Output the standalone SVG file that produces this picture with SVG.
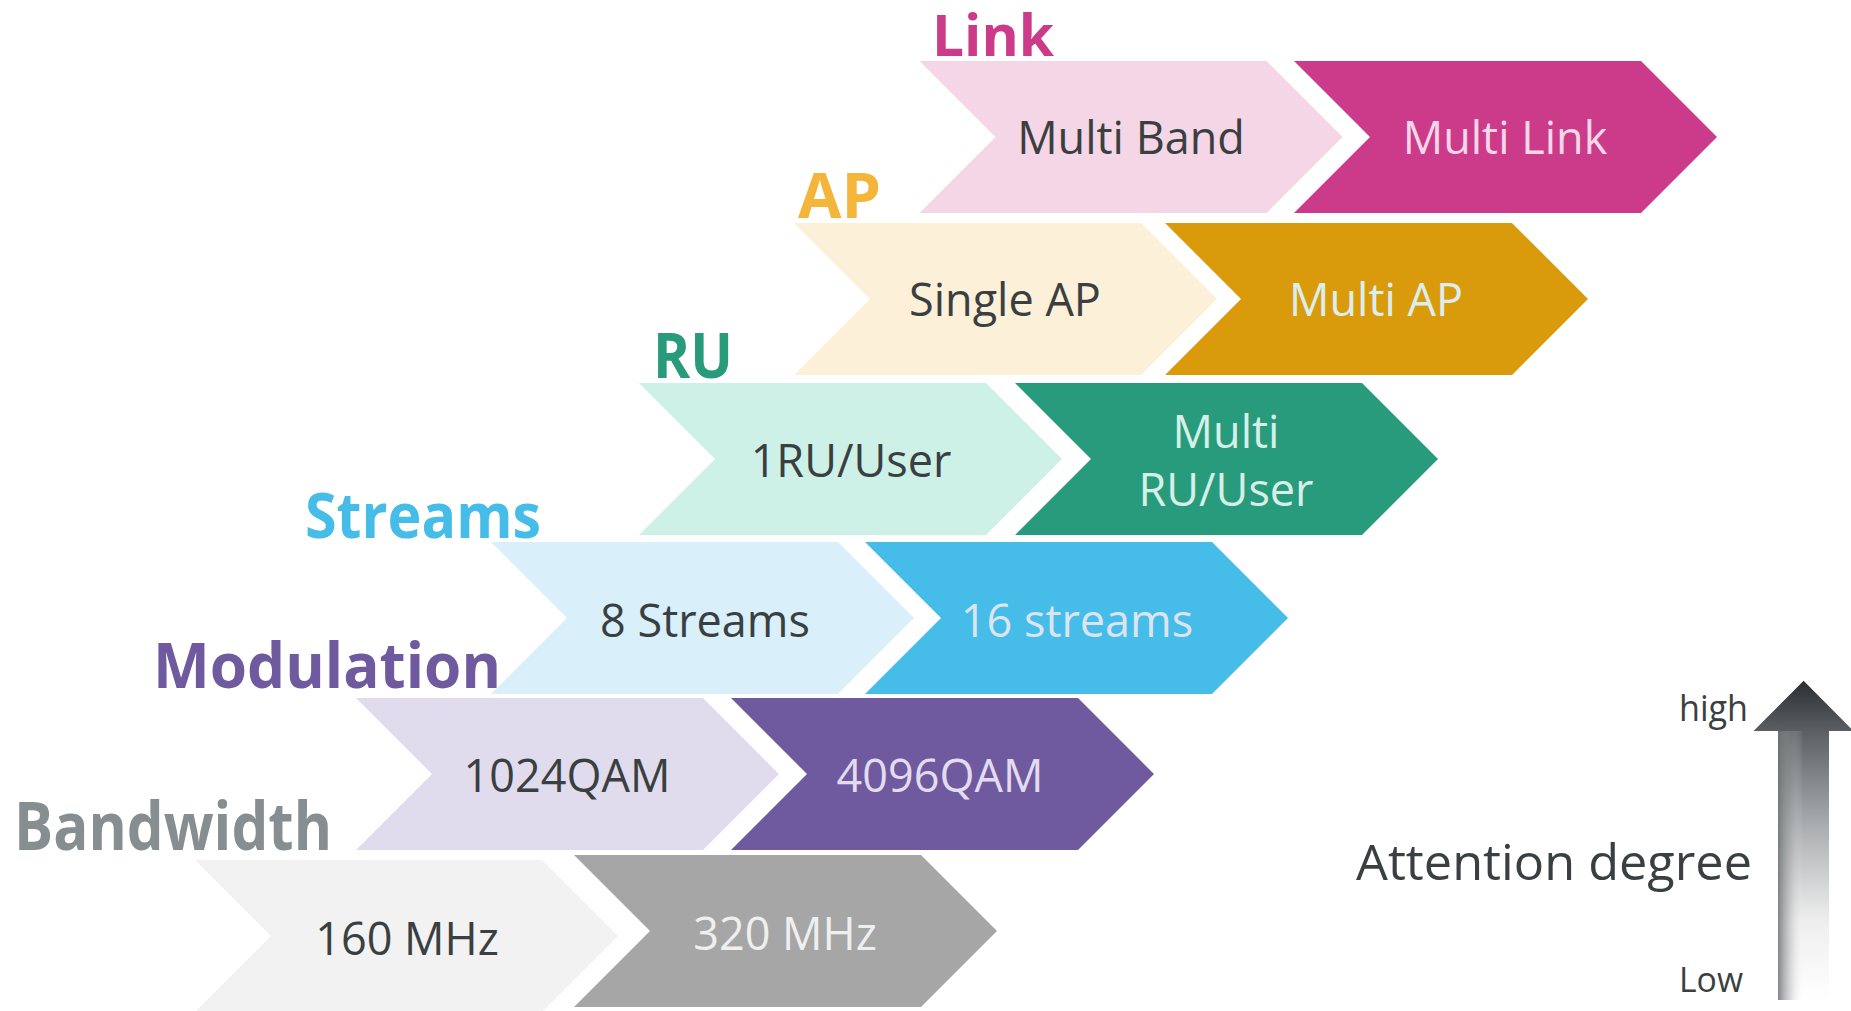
<svg xmlns="http://www.w3.org/2000/svg" xmlns:xlink="http://www.w3.org/1999/xlink" width="1851" height="1011" viewBox="0 0 1851 1011">
  <defs>
    <!-- one chevron step: 347 body + 76 point, 152 high -->
    <path id="chev" d="M0,0 H347 L423,76 L347,152 H0 L76,76 Z"/>
    <linearGradient id="arrowFill" x1="0" y1="681" x2="0" y2="1000" gradientUnits="userSpaceOnUse">
      <stop offset="0" stop-color="#2c2f31"/>
      <stop offset="0.16" stop-color="#5c6062"/>
      <stop offset="0.45" stop-color="#a9acae"/>
      <stop offset="0.75" stop-color="#eeeeee"/>
      <stop offset="1" stop-color="#ffffff"/>
    </linearGradient>
    <linearGradient id="shaftEdge" x1="1778" y1="0" x2="1829" y2="0" gradientUnits="userSpaceOnUse">
      <stop offset="0" stop-color="#6e7275" stop-opacity="0.85"/>
      <stop offset="0.25" stop-color="#9a9d9f" stop-opacity="0.35"/>
      <stop offset="0.5" stop-color="#ffffff" stop-opacity="0"/>
    </linearGradient>
  </defs>
  <style>
    .title { font-family: "Open Sans", "Noto Sans", sans-serif; font-weight: 700; font-size: 62px; }
    .lbl { font-family: "Open Sans", "Noto Sans", sans-serif; font-size: 45px; text-anchor: middle; }
    .dk { fill: #3a3f41; }
    .axis { font-family: "Open Sans", "Noto Sans", sans-serif; fill: #3a3f41; }
  </style>

  <rect width="1851" height="1011" fill="#ffffff"/>

  <!-- Link -->
  <g id="link">
    <text class="title" x="932" y="56" textLength="122" lengthAdjust="spacingAndGlyphs" fill="#cc3b8a" style="font-size:58px">Link</text>
    <use xlink:href="#chev" x="919.5" y="61" fill="#f5d6e6"/>
    <use xlink:href="#chev" x="1294" y="61" fill="#cc3b8a"/>
    <text class="lbl dk" x="1131" y="154">Multi Band</text>
    <text class="lbl" x="1505" y="154" fill="#f6d7e8">Multi Link</text>
  </g>

  <!-- AP -->
  <g id="ap">
    <text class="title" x="798" y="218" textLength="83" lengthAdjust="spacingAndGlyphs" fill="#f4b63a">AP</text>
    <use xlink:href="#chev" x="794" y="223" fill="#fdf0d8"/>
    <use xlink:href="#chev" x="1165" y="223" fill="#d99b0b"/>
    <text class="lbl dk" x="1005" y="316">Single AP</text>
    <text class="lbl" x="1376" y="316" fill="#dceeee">Multi AP</text>
  </g>

  <!-- RU -->
  <g id="ru">
    <text class="title" x="653" y="378" textLength="80" lengthAdjust="spacingAndGlyphs" fill="#289b7c">RU</text>
    <use xlink:href="#chev" x="639" y="383" fill="#cdf1e6"/>
    <use xlink:href="#chev" x="1015" y="383" fill="#289b7c"/>
    <text class="lbl dk" x="851" y="477">1RU/User</text>
    <text class="lbl" x="1226" y="448" fill="#d6efe7">Multi</text>
    <text class="lbl" x="1226" y="506" fill="#d6efe7">RU/User</text>
  </g>

  <!-- Streams -->
  <g id="streams">
    <text class="title" x="305" y="538" textLength="236" lengthAdjust="spacingAndGlyphs" fill="#46bde9">Streams</text>
    <use xlink:href="#chev" x="491" y="542" fill="#d9f0fa"/>
    <use xlink:href="#chev" x="865" y="542" fill="#46bde9"/>
    <text class="lbl dk" x="705" y="637">8 Streams</text>
    <text class="lbl" x="1077" y="637" fill="#dde4f0">16 streams</text>
  </g>

  <!-- Modulation -->
  <g id="modulation">
    <text class="title" x="153" y="688" textLength="348" lengthAdjust="spacingAndGlyphs" fill="#6f5aa0">Modulation</text>
    <use xlink:href="#chev" x="356" y="698" fill="#e1dced"/>
    <use xlink:href="#chev" x="731" y="698" fill="#6f5aa0"/>
    <text class="lbl dk" x="567" y="792">1024QAM</text>
    <text class="lbl" x="940" y="792" fill="#e3dcef">4096QAM</text>
  </g>

  <!-- Bandwidth -->
  <g id="bandwidth">
    <text class="title" x="14" y="850" textLength="318" lengthAdjust="spacingAndGlyphs" fill="#868e92" style="font-size:66px">Bandwidth</text>
    <use xlink:href="#chev" x="195" y="860" fill="#f2f2f2"/>
    <use xlink:href="#chev" x="574" y="855" fill="#a6a6a6"/>
    <text class="lbl dk" x="407" y="955">160 MHz</text>
    <text class="lbl" x="785" y="950" fill="#efefef">320 MHz</text>
  </g>

  <!-- attention scale -->
  <g id="attention">
    <path d="M1803.6,680.7 L1853.6,731 H1829 V1000 H1778 V731 H1753.5 Z" fill="url(#arrowFill)"/>
    <rect x="1778" y="731" width="51" height="269" fill="url(#shaftEdge)"/>
    <text class="axis" x="1679" y="721" font-size="36" textLength="69" lengthAdjust="spacingAndGlyphs">high</text>
    <text class="axis" x="1356" y="880" font-size="50" textLength="396" lengthAdjust="spacingAndGlyphs">Attention degree</text>
    <text class="axis" x="1679" y="992" font-size="34" textLength="64" lengthAdjust="spacingAndGlyphs">Low</text>
  </g>
</svg>
